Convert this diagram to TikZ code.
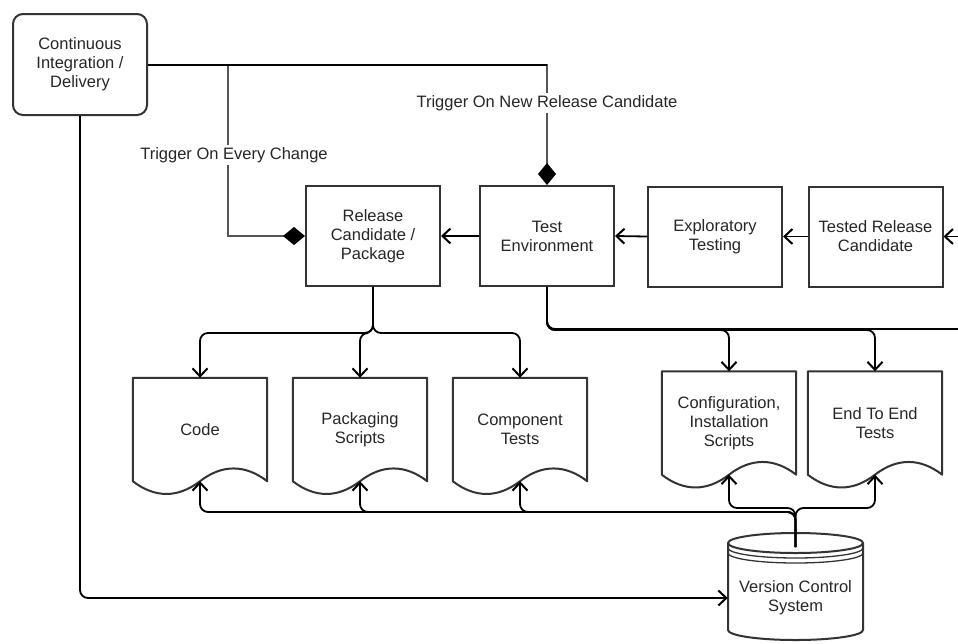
\documentclass[tikz,border=0pt]{standalone}
\usepackage{fontspec}
\setmainfont{Liberation Sans}
\usepackage{xcolor}
\usetikzlibrary{arrows.meta, positioning, calc}

\definecolor{boxgray}{HTML}{333333}
\definecolor{triggergray}{HTML}{555555}
\definecolor{textgray}{HTML}{262626}

\tikzset{
  stagebox/.style={draw=boxgray, line width=2pt, minimum width=134pt, minimum height=100pt,
    inner sep=2pt, align=center},
  docbox/.style={minimum width=134pt, minimum height=103pt, inner sep=0pt, align=center},
  docline/.style={draw=boxgray, line width=2pt, line join=round},
  feed/.style={line width=1.8pt, rounded corners=8pt},
  flow/.style={feed, -{Straight Barb[length=8pt, width=15pt, line width=2pt]}},
  trigger/.style={draw=triggergray, line width=1.3pt,
    -{Diamond[length=22pt, width=18pt, color=black]}},
  trunk/.style={line width=2pt},
  triglabel/.style={fill=white, inner sep=2pt}
}

% document outline with a wavy bottom edge
\newcommand{\docoutline}[1]{%
  \draw[docline] (#1.north west) -- (#1.north east) -- (#1.south east)
    .. controls ($(#1.south east)+(-22,-17)$) and ($(#1.south)+(22,-17)$) .. (#1.south)
    .. controls ($(#1.south)+(-22,17)$) and ($(#1.south west)+(22,17)$) .. (#1.south west)
    -- cycle;}

\begin{document}
\begin{tikzpicture}[x=1pt, y=-1pt,
    every node/.style={font=\fontsize{16.5}{19}\selectfont, text=textgray}]
  \useasboundingbox (0,0) rectangle (958,643);

  % controller
  \node[stagebox, rounded corners=10pt, minimum height=101pt] (ci) at (80,64.5)
    {Continuous\\Integration /\\Delivery};

  % pipeline stages
  \node[stagebox] (rc) at (373,236) {Release\\Candidate /\\Package};
  \node[stagebox] (te) at (547,236) {Test\\Environment};
  \node[stagebox] (explo) at (715,236.5) {Exploratory\\Testing};
  \node[stagebox] (tested) at (875.5,236.5) {Tested Release\\Candidate};
  \coordinate (tested in) at (958,236.5);

  % artefacts
  \node[docbox] (code) at (200,429.5) {Code};
  \node[docbox] (pack) at (360,429.5) {Packaging\\Scripts};
  \node[docbox] (comp) at (520,429.5) {Component\\Tests};
  \node[docbox] (cfg) at (729,423) {Configuration,\\Installation\\Scripts};
  \node[docbox] (e2e) at (875,423) {End To End\\Tests};
  \foreach \d in {code, pack, comp, cfg, e2e}
    \docoutline{\d};

  % repository
  \draw[docline] (728,543) -- (728,630)
    arc[start angle=180, end angle=360, x radius=67.5pt, y radius=10pt] -- (863,543);
  \draw[docline] (795.5,543) ellipse[x radius=67.5pt, y radius=10pt];
  \draw[docline, line width=1.3pt] (728,548)
    arc[start angle=180, end angle=360, x radius=67.5pt, y radius=10pt];
  \draw[docline, line width=1.3pt] (728,553)
    arc[start angle=180, end angle=360, x radius=67.5pt, y radius=10pt];
  \node[minimum width=135pt, inner sep=0pt, align=center] (vcs) at (795.5,598)
    {Version Control\\System};
  \coordinate (vcs top) at (795.5,547);

  % triggers
  \draw[trigger] (ci.east) -| (te.north);
  \draw[trigger] (ci.east) -- ++(80,0) |- (rc.west);
  \draw[trunk] (ci.east) -- (ci.east -| te.north);
  \node[triglabel] (lbl new) at (547,103) {Trigger On New Release Candidate};
  \node[triglabel] (lbl change) at (234,155) {Trigger On Every Change};

  % promotion chain
  \draw[flow] (tested in) -- (tested.east);
  \draw[flow] (tested.west) -- (explo.east);
  \draw[flow] (explo.west) -- (te.east);
  \draw[flow] (te.west) -- (rc.east);

  % package contents
  \foreach \d in {code, pack, comp}
    \draw[flow] (rc.south) -- ++(0,46) -| (\d.north);

  % environment contents
  \coordinate (te out) at (958,329);
  \draw[feed] (te.south) |- (te out);
  \foreach \d in {cfg, e2e}
    \draw[flow] (te.south) -- ++(0,43) -| (\d.north);

  % checkout from version control
  \foreach \d in {code, pack, comp}
    \draw[flow] (vcs top) -- ++(0,-35) -| (\d.south);
  \foreach \d in {cfg, e2e}
    \draw[flow] (vcs top) -- ++(0,-39) -| (\d.south);

  \draw[flow] (ci.south) |- (vcs.west);
\end{tikzpicture}
\end{document}
